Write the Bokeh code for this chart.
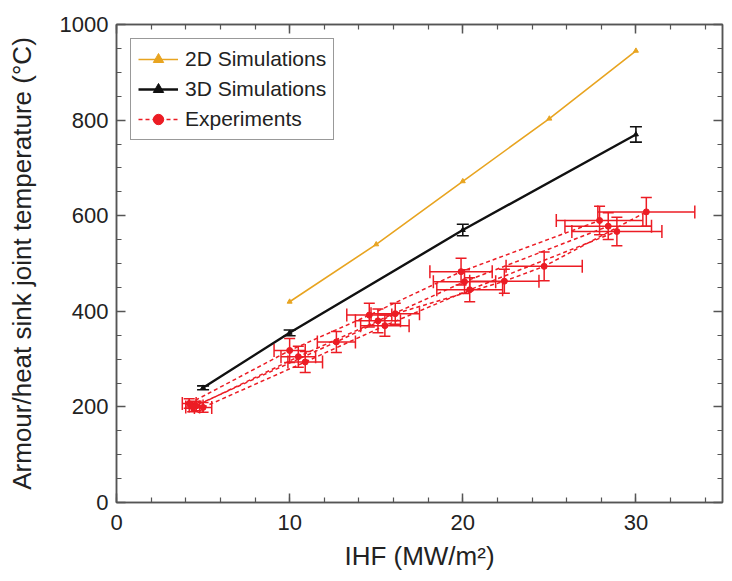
from bokeh.plotting import figure
from bokeh.models import (ColumnDataSource, Whisker, TeeHead, LinearAxis, Range1d,
                          SingleIntervalTicker, Legend, LegendItem, CustomJSTickFormatter)
from bokeh.embed import file_html
from bokeh.resources import INLINE

# ---------------- data ----------------
sim2d_x = [10, 15, 20, 25, 30]
sim2d_y = [420, 540, 672, 803, 945]

sim3d_x = [5, 10, 20, 30]
sim3d_y = [240, 355, 570, 770]
sim3d_err = [4, 6, 12, 16]

expA_x = [4.2, 10.0, 14.6, 19.9, 27.9]
expA_y = [207, 318, 392, 483, 590]
expA_xerr = [0.4, 0.9, 1.3, 1.8, 2.5]
expA_yerr = [10, 25, 25, 28, 30]

expB_x = [4.6, 10.5, 15.1, 20.1, 28.4]
expB_y = [202, 305, 380, 462, 578]
expB_xerr = [0.4, 1.0, 1.3, 1.8, 2.5]
expB_yerr = [10, 22, 25, 25, 28]

expC_x = [5.0, 10.9, 15.5, 20.4, 28.9]
expC_y = [199, 294, 370, 445, 567]
expC_xerr = [0.5, 1.0, 1.4, 1.9, 2.6]
expC_yerr = [10, 22, 22, 25, 30]

expD_x = [4.4, 12.7, 16.1, 22.4, 24.7, 30.6]
expD_y = [200, 336, 395, 463, 494, 608]
expD_xerr = [0.4, 1.1, 1.4, 2.0, 2.2, 2.8]
expD_yerr = [10, 22, 22, 25, 30, 30]

x_title = "IHF (MW/m²)"
y_title = "Armour/heat sink joint temperature (°C)"
labels = ["2D Simulations", "3D Simulations", "Experiments"]

# ---------------- style ----------------
C2D = "#E8A420"
C3D = "#111111"
CEXP = "#EC1C24"
FONT = "Liberation Sans"
AXC = "#555555"

p = figure(width=724, height=573, output_backend="svg", toolbar_location=None,
           x_range=Range1d(0, 35), y_range=Range1d(0, 1000),
           min_border_left=116, min_border_right=2, min_border_top=24,
           min_border_bottom=66)
p.xgrid.visible = False
p.ygrid.visible = False
p.outline_line_color = AXC
p.outline_line_width = 1.5
p.background_fill_color = "white"
p.border_fill_color = "white"

def style_axis(ax, show_labels):
    ax.axis_line_color = AXC
    ax.axis_line_width = 1.5
    ax.major_tick_line_color = AXC
    ax.minor_tick_line_color = AXC
    ax.major_tick_line_width = 1.5
    ax.minor_tick_line_width = 1.2
    ax.major_tick_in = 9
    ax.major_tick_out = 0
    ax.minor_tick_in = 5
    ax.minor_tick_out = 0
    if show_labels:
        ax.major_label_text_font = FONT
        ax.major_label_text_font_size = "22px"
        ax.major_label_text_color = "#222222"
        ax.axis_label_text_font = FONT
        ax.axis_label_text_font_size = "26px"
        ax.axis_label_text_font_style = "normal"
        ax.axis_label_text_color = "#222222"
    else:
        ax.formatter = CustomJSTickFormatter(code="return ''")
        ax.major_label_standoff = 0

p.xaxis.ticker = SingleIntervalTicker(interval=10, num_minor_ticks=5)
p.yaxis.ticker = SingleIntervalTicker(interval=200, num_minor_ticks=4)
style_axis(p.xaxis[0], True)
style_axis(p.yaxis[0], True)
p.xaxis.axis_label = x_title
p.yaxis.axis_label = y_title
p.xaxis.major_label_standoff = 12
p.xaxis.axis_label_standoff = 8
p.yaxis.major_label_standoff = 8
p.yaxis.axis_label_standoff = 20

top_ax = LinearAxis(ticker=SingleIntervalTicker(interval=10, num_minor_ticks=5))
style_axis(top_ax, False)
p.add_layout(top_ax, "above")
right_ax = LinearAxis(ticker=SingleIntervalTicker(interval=200, num_minor_ticks=4))
style_axis(right_ax, False)
p.add_layout(right_ax, "right")

# ---------------- simulations ----------------
r2l = p.line(sim2d_x, sim2d_y, line_color=C2D, line_width=1.6)
r2m = p.scatter(sim2d_x, sim2d_y, marker="triangle", size=5, color=C2D)

s3 = ColumnDataSource(dict(x=sim3d_x, y=sim3d_y,
                           lo=[v - e for v, e in zip(sim3d_y, sim3d_err)],
                           hi=[v + e for v, e in zip(sim3d_y, sim3d_err)]))
r3l = p.line("x", "y", source=s3, line_color=C3D, line_width=2.4)
r3m = p.scatter("x", "y", source=s3, marker="triangle", size=5, color=C3D)
p.add_layout(Whisker(source=s3, base="x", upper="hi", lower="lo", dimension="height",
                     line_color=C3D, line_width=1.6,
                     upper_head=TeeHead(size=12, line_color=C3D, line_width=1.6),
                     lower_head=TeeHead(size=12, line_color=C3D, line_width=1.6)))

# ---------------- experiments ----------------
exp_sets = [(expA_x, expA_y, expA_xerr, expA_yerr),
            (expB_x, expB_y, expB_xerr, expB_yerr),
            (expC_x, expC_y, expC_xerr, expC_yerr),
            (expD_x, expD_y, expD_xerr, expD_yerr)]
exp_line = None
exp_mark = None
for xs, ys, xe, ye in exp_sets:
    src = ColumnDataSource(dict(
        x=xs, y=ys,
        xl=[a - b for a, b in zip(xs, xe)], xh=[a + b for a, b in zip(xs, xe)],
        yl=[a - b for a, b in zip(ys, ye)], yh=[a + b for a, b in zip(ys, ye)]))
    p.add_layout(Whisker(source=src, base="y", upper="xh", lower="xl", dimension="width",
                         line_color=CEXP, line_width=1.5,
                         upper_head=TeeHead(size=13, line_color=CEXP, line_width=1.5),
                         lower_head=TeeHead(size=13, line_color=CEXP, line_width=1.5)))
    p.add_layout(Whisker(source=src, base="x", upper="yh", lower="yl", dimension="height",
                         line_color=CEXP, line_width=1.5,
                         upper_head=TeeHead(size=11, line_color=CEXP, line_width=1.5),
                         lower_head=TeeHead(size=11, line_color=CEXP, line_width=1.5)))
    rl = p.line("x", "y", source=src, line_color=CEXP, line_width=1.5, line_dash="4 3")
    rm = p.scatter("x", "y", source=src, marker="circle", size=6, color=CEXP)
    if exp_line is None:
        exp_line, exp_mark = rl, rm

legend = Legend(items=[LegendItem(label=labels[0], renderers=[r2l, r2m]),
                       LegendItem(label=labels[1], renderers=[r3l, r3m]),
                       LegendItem(label=labels[2], renderers=[exp_line, exp_mark])],
                location="top_left")
legend.margin = 14
legend.padding = 7
legend.spacing = 4
legend.glyph_width = 40
legend.glyph_height = 26
legend.label_height = 26
legend.label_standoff = 7
legend.label_text_font = FONT
legend.label_text_font_size = "21px"
legend.label_text_color = "#222222"
legend.border_line_color = "#333333"
legend.border_line_width = 1.5
legend.background_fill_alpha = 1.0
p.add_layout(legend)

open("out.html", "w").write(file_html(p, INLINE))
